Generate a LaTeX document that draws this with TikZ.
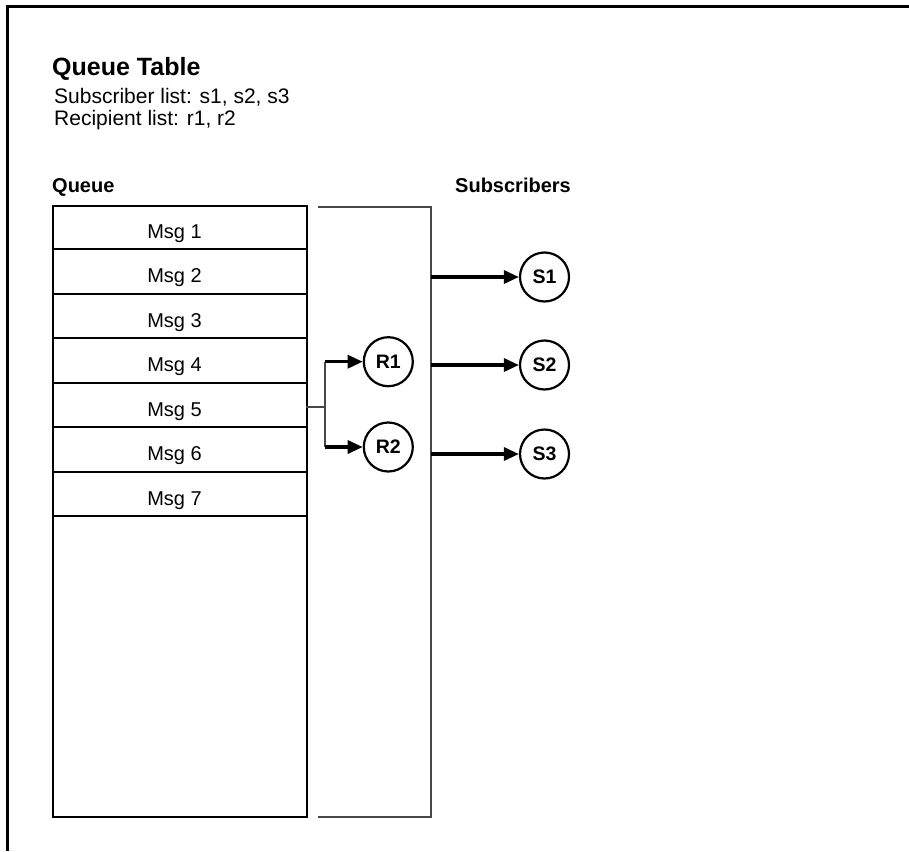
\documentclass[tikz,border=0pt]{standalone}
\usepackage{fontspec}
\setmainfont{Liberation Sans}
\usetikzlibrary{arrows.meta}
\begin{document}
\begin{tikzpicture}[x=1pt,y=-1pt,
  frame/.style={line width=3.6pt},
  qbox/.style={draw, line width=2.2pt, rectangle, inner sep=0pt},
  sepline/.style={line width=2pt},
  bracket/.style={draw=black!72, line width=1.8pt},
  msg/.style={font=\fontsize{20}{24}\selectfont, anchor=base, inner sep=0pt},
  txt/.style={font=\fontsize{21}{24}\selectfont, anchor=base west, inner sep=0pt},
  hdr/.style={font=\fontsize{20}{24}\selectfont\bfseries, anchor=base west, inner sep=0pt},
  circ/.style={circle, draw, line width=2.2pt, minimum size=49pt, inner sep=0pt, font=\fontsize{19.5}{22}\selectfont\bfseries},
  arr/.style={line width=3.2pt, -{Triangle[length=15pt,width=13pt]}},
  thinline/.style={draw=black!72, line width=1.6pt}
]
\useasboundingbox (0,0) rectangle (909,851);
% outer frame
\draw[frame] (7.3,851) -- (7.3,6.5) -- (909,6.5);
% titles
\node[font=\fontsize{25}{28}\selectfont\bfseries, anchor=base west, inner sep=0pt] (title) at (52,75) {Queue Table};
\node[txt] (sub) at (54,103) {Subscriber list: s1, s2, s3};
\node[txt] (rec) at (54,125) {Recipient list: r1, r2};
\node[hdr] (qlabel) at (52,192) {Queue};
\node[hdr] (slabel) at (455,192) {Subscribers};
% queue box
\node[qbox, minimum width=254.3pt, minimum height=611pt, anchor=north west] (queue) at (51.7,205) {};
\foreach \i in {1,...,7}{
  \pgfmathsetmacro{\yy}{205+44.43*\i}
  \pgfmathsetmacro{\ty}{205+44.43*(\i-1)+33.5}
  \draw[sepline] (51.7,\yy) -- (306,\yy);
  \node[msg] (m\i) at (174.5,\ty) {Msg \i};
}
% bracket
\draw[bracket] (317.7,206.7) -- (430.7,206.7) -- (430.7,816.7) -- (317.7,816.7);
% circles
\node[circ] (r1) at (388.3,361.7) {R1};
\node[circ] (r2) at (388.3,447) {R2};
\node[circ] (s1) at (544.5,277) {S1};
\node[circ] (s2) at (544.5,365) {S2};
\node[circ] (s3) at (544.5,454) {S3};
% connectors
\coordinate (m5e) at (306,406.7);
\coordinate (fork) at (325,406.7);
\draw[thinline] (m5e) -- (fork);
\draw[thinline] (fork |- r1) -- (fork |- r2);
\draw[arr] (fork |- r1) -- (r1);
\draw[arr] (fork |- r2) -- (r2);
\coordinate (b1) at (430.7,277);
\coordinate (b2) at (430.7,365);
\coordinate (b3) at (430.7,454);
\draw[arr] (b1) -- (s1);
\draw[arr] (b2) -- (s2);
\draw[arr] (b3) -- (s3);
\end{tikzpicture}
\end{document}
